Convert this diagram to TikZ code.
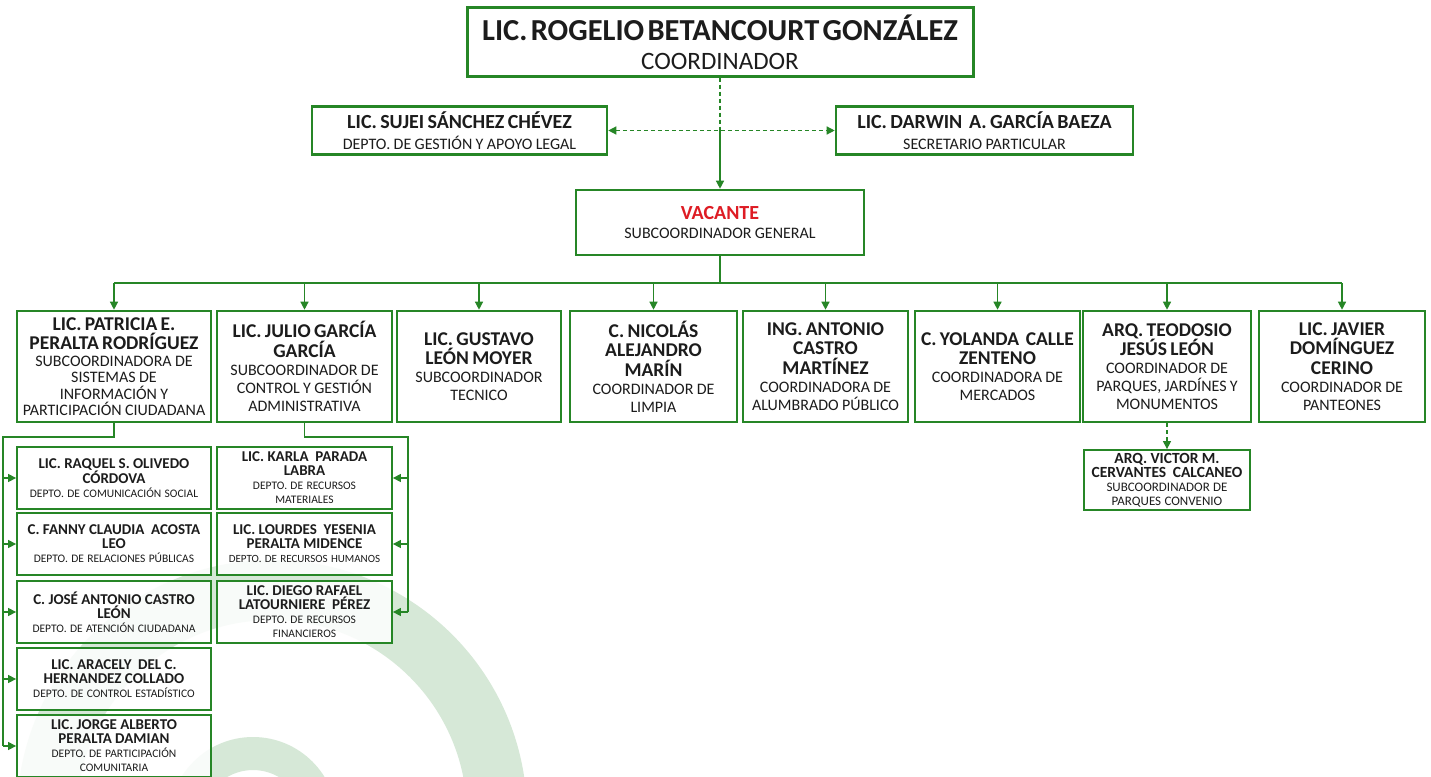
\documentclass[tikz,border=0pt]{standalone}
\usepackage{fontspec}
\setmainfont{Carlito}
\usetikzlibrary{arrows.meta}
\definecolor{gcol}{RGB}{38,134,38}
\definecolor{wmcol}{RGB}{214,232,215}
\definecolor{redv}{RGB}{222,28,36}
\definecolor{txt}{RGB}{28,28,28}
\newcommand\Ftop{\fontsize{30.5}{30}\selectfont\bfseries}
\newcommand\Ftopt{\fontsize{25}{29}\selectfont\mdseries}
\newcommand\Fmid{\fontsize{20}{20}\selectfont\bfseries}
\newcommand\Fmidt{\fontsize{16}{20.5}\selectfont\mdseries}
\newcommand\Frow{\fontsize{19.5}{19.5}\selectfont\bfseries}
\newcommand\Frowt{\fontsize{16}{18}\selectfont\mdseries}
\newcommand\Fsub{\fontsize{15}{14}\selectfont\bfseries}
\newcommand\Fsubt{\fontsize{11.5}{14}\selectfont\mdseries}
\tikzset{
  gbox/.style={draw=gcol, line width=2.6pt, fill=white, fill opacity=0.85, text opacity=1,
    text=txt, inner sep=0pt, align=center},
  sbox/.style={gbox, line width=1.8pt},
  conn/.style={draw=gcol, line width=1.3pt},
  arr/.style={conn, -{Triangle[length=8pt,width=8pt]}},
  darr/.style={arr, dash pattern=on 4pt off 3pt},
}
\begin{document}
\begin{tikzpicture}[x=1pt,y=-1pt]
\useasboundingbox (0,0) rectangle (1431,776);
\fill[white] (0,0) rectangle (1431,776);
% watermark
\begin{scope}
\clip (0,0) rectangle (1431,776);
\fill[wmcol, even odd rule] (272,815) circle (255pt) (272,815) circle (195pt);
\fill[wmcol, even odd rule] (253,821) circle (84pt) (253,821) circle (51pt);
\end{scope}

% top level
\node[gbox, line width=3pt, minimum width=506pt, minimum height=68pt, text width=500pt] (top) at (720,42)
  {\Ftop LIC. ROGELIO BETANCOURT GONZÁLEZ\\\Ftopt COORDINADOR\par};
\node[gbox, minimum width=295pt, minimum height=48pt, text width=293pt] (suj) at (459.5,130.5)
  {\Fmid LIC. SUJEI SÁNCHEZ CHÉVEZ\\\Fmidt DEPTO. DE GESTIÓN Y APOYO LEGAL\par};
\node[gbox, minimum width=297pt, minimum height=48pt, text width=295pt] (dar) at (984.5,130.5)
  {\Fmid LIC. DARWIN\ \ A. GARCÍA BAEZA\\\Fmidt SECRETARIO PARTICULAR\par};
\node[gbox, minimum width=288pt, minimum height=65pt, text width=284pt] (vac) at (720,222.5)
  {\Fmid\textcolor{redv}{VACANTE}\\\fontsize{16}{18.5}\selectfont\mdseries SUBCOORDINADOR GENERAL\par};

% row
\node[gbox, minimum width=194pt, minimum height=111pt, text width=193pt] (pat) at (114,366.5)
  {\Frow LIC. PATRICIA E.\\PERALTA RODRÍGUEZ\\\fontsize{16}{16.5}\selectfont\mdseries SUBCOORDINADORA DE\\SISTEMAS DE\\INFORMACIÓN Y\\PARTICIPACIÓN CIUDADANA\par};
\node[gbox, minimum width=175pt, minimum height=111pt, text width=173pt] (jul) at (304.5,366.5)
  {\Frow LIC. JULIO GARCÍA\\GARCÍA\\\Frowt SUBCOORDINADOR DE\\CONTROL Y GESTIÓN\\ADMINISTRATIVA\par};
\node[gbox, minimum width=164pt, minimum height=111pt, text width=162pt] (gus) at (479,366.5)
  {\Frow LIC. GUSTAVO\\LEÓN MOYER\\\Frowt SUBCOORDINADOR\\TECNICO\par};
\node[gbox, minimum width=167pt, minimum height=111pt, text width=165pt] (nic) at (653.5,366.5)
  {\Frow C. NICOLÁS\\ALEJANDRO\\MARÍN\\\Frowt COORDINADOR DE\\LIMPIA\par};
\node[gbox, minimum width=165pt, minimum height=111pt, text width=164pt] (ant) at (825.5,366.5)
  {\Frow ING. ANTONIO\\CASTRO\\MARTÍNEZ\\\Frowt COORDINADORA DE\\ALUMBRADO PÚBLICO\par};
\node[gbox, minimum width=165pt, minimum height=111pt, text width=164pt] (yol) at (997.5,366.5)
  {\Frow C. YOLANDA\ \ CALLE\\ZENTENO\\\Frowt COORDINADORA DE\\MERCADOS\par};
\node[gbox, minimum width=168pt, minimum height=111pt, text width=166pt] (teo) at (1167,366.5)
  {\Frow ARQ. TEODOSIO\\JESÚS LEÓN\\\Frowt COORDINADOR DE\\PARQUES, JARDÍNES Y\\MONUMENTOS\par};
\node[gbox, minimum width=166pt, minimum height=111pt, text width=164pt] (jav) at (1342,366.5)
  {\Frow LIC. JAVIER\\DOMÍNGUEZ\\CERINO\\\Frowt COORDINADOR DE\\PANTEONES\par};
\node[sbox, minimum width=166pt, minimum height=60pt, text width=165pt] (vic) at (1167,480)
  {\fontsize{15.5}{14}\selectfont\bfseries ARQ. VICTOR M.\\CERVANTES\ \ CALCANEO\\\fontsize{13}{14}\selectfont\mdseries SUBCOORDINADOR DE\\PARQUES CONVENIO\par};

% left column
\node[sbox, minimum width=194pt, minimum height=62pt, text width=193pt] (raq) at (114,478)
  {\Fsub LIC. RAQUEL S. OLIVEDO\\CÓRDOVA\\\Fsubt DEPTO. DE COMUNICACIÓN SOCIAL\par};
\node[sbox, minimum width=194pt, minimum height=62pt, text width=193pt] (fan) at (114,544)
  {\Fsub C. FANNY CLAUDIA\ \ ACOSTA\\LEO\\\Fsubt DEPTO. DE RELACIONES PÚBLICAS\par};
\node[sbox, minimum width=194pt, minimum height=62pt, text width=193pt] (jos) at (114,612)
  {\Fsub C. JOSÉ ANTONIO CASTRO\\LEÓN\\\Fsubt DEPTO. DE ATENCIÓN CIUDADANA\par};
\node[sbox, minimum width=194pt, minimum height=62pt, text width=193pt] (ara) at (114,679)
  {\Fsub LIC. ARACELY\ \ DEL C.\\HERNANDEZ COLLADO\\\Fsubt DEPTO. DE CONTROL ESTADÍSTICO\par};
\node[sbox, minimum width=194pt, minimum height=62pt, text width=193pt] (jor) at (114,746)
  {\Fsub LIC. JORGE ALBERTO\\PERALTA DAMIAN\\\Fsubt DEPTO. DE PARTICIPACIÓN\\COMUNITARIA\par};

% middle column
\node[sbox, minimum width=175pt, minimum height=62pt, text width=174pt] (kar) at (304.5,478)
  {\Fsub LIC. KARLA\ \ PARADA\\LABRA\\\Fsubt DEPTO. DE RECURSOS\\MATERIALES\par};
\node[sbox, minimum width=175pt, minimum height=62pt, text width=174pt] (lou) at (304.5,544)
  {\Fsub LIC. LOURDES\ \ YESENIA\\PERALTA MIDENCE\\\fontsize{11}{14}\selectfont\mdseries DEPTO. DE RECURSOS HUMANOS\par};
\node[sbox, minimum width=175pt, minimum height=62pt, text width=174pt] (die) at (304.5,612)
  {\Fsub LIC. DIEGO RAFAEL\\LATOURNIERE\ \ PÉREZ\\\Fsubt DEPTO. DE RECURSOS\\FINANCIEROS\par};

% connectors: top
\coordinate (mid) at (suj.east -| top.south);
\draw[conn, dash pattern=on 4pt off 3pt] (top.south) -- (mid);
\draw[arr] (mid) -- (vac.north);
\draw[darr, {Triangle[length=8pt,width=8pt]}-{Triangle[length=8pt,width=8pt]}] (suj.east) -- (dar.west);

% bus
\coordinate (bus) at (720,283);
\draw[conn] (vac.south) -- (bus);
\draw[conn] (pat.north |- bus) -- (jav.north |- bus);
\foreach \n in {pat,jul,gus,nic,ant,yol,teo,jav}
  \draw[arr] (\n.north |- bus) -- (\n.north);
\draw[darr] (teo.south) -- (vic.north);

% left branch
\coordinate (pk) at (3,437);
\draw[conn] (pat.south) -- (pat.south |- pk) -- (pk) -- (pk |- jor.west);
\foreach \n in {raq,fan,jos,ara,jor}
  \draw[arr] (pk |- \n.west) -- (\n.west);

% middle branch
\coordinate (jk) at (408,437);
\draw[conn] (jul.south) -- (jul.south |- jk) -- (jk) -- (jk |- die.east);
\foreach \n in {kar,lou,die}
  \draw[arr] (jk |- \n.east) -- (\n.east);
\end{tikzpicture}
\end{document}
